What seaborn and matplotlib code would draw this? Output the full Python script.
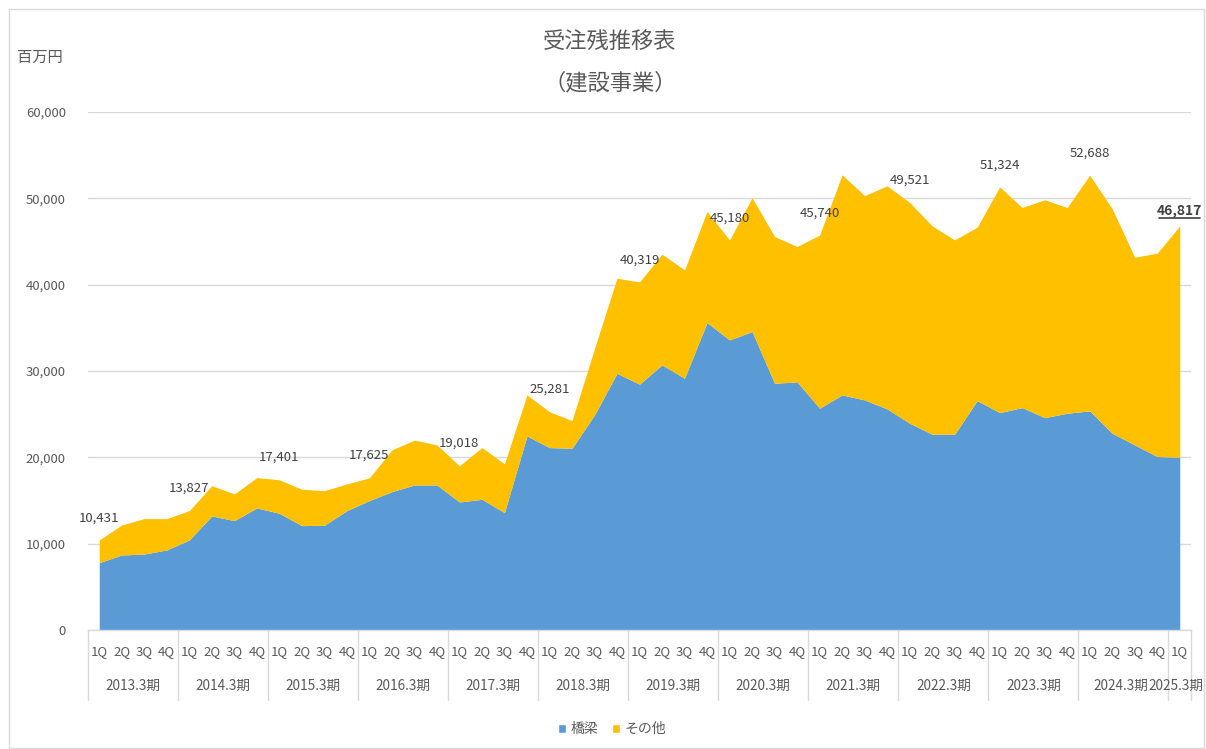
import matplotlib
matplotlib.use("Agg")
import matplotlib.pyplot as plt
from matplotlib.patches import Patch, Rectangle
from matplotlib.ticker import FuncFormatter
import numpy as np
import pandas as pd
import seaborn as sns

# values in 百万円, one per quarter from 2013.3期 1Q to 2025.3期 1Q
years = ['2013.3期', '2014.3期', '2015.3期', '2016.3期', '2017.3期', '2018.3期',
         '2019.3期', '2020.3期', '2021.3期', '2022.3期', '2023.3期', '2024.3期',
         '2025.3期']
quarters = ['1Q', '2Q', '3Q', '4Q'] * 12 + ['1Q']

bridge = [7800, 8690, 8800, 9270, 10430, 13210, 12670, 14140, 13520, 12090,
          12130, 13830, 14990, 16030, 16800, 16800, 14830, 15140, 13600, 22480,
          21130, 21050, 24910, 29740, 28470, 30710, 29160, 35610, 33600, 34570,
          28580, 28740, 25690, 27230, 26650, 25610, 23950, 22680, 22680, 26570,
          25180, 25760, 24600, 25110, 25380, 22790, 21440, 20090, 20010]
total = [10431, 12170, 12900, 12900, 13827, 16720, 15760, 17650, 17401, 16300,
         16140, 16920, 17625, 20860, 22000, 21440, 19018, 21130, 19240, 27230,
         25281, 24260, 32600, 40750, 40319, 43530, 41710, 48470, 45180, 50070,
         45580, 44420, 45740, 52720, 50320, 51450, 49521, 46810, 45190, 46660,
         51324, 48940, 49830, 48940, 52688, 48780, 43180, 43650, 46817]
other = [t - b for t, b in zip(total, bridge)]

df = pd.DataFrame({'quarter': quarters, '橋梁': bridge, 'その他': other})
df['合計'] = df['橋梁'] + df['その他']

BLUE = '#5B9BD5'
YELLOW = '#FFC000'
TEXT = '#595959'
GRID = '#D9D9D9'

sns.set_theme(style="white")
plt.rcParams['font.family'] = ['Noto Sans CJK JP', 'DejaVu Sans']

W, H = 1206, 749
fig = plt.figure(figsize=(W / 100, H / 100), dpi=100)
ax = fig.add_axes([88 / W, 1 - 630 / H, (1191 - 88) / W, (630 - 112) / H])

x = np.arange(len(df))
ax.stackplot(x, df['橋梁'], df['その他'], colors=[BLUE, YELLOW], linewidth=0)

ax.set_xlim(-0.5, len(df) - 0.5)
ax.set_ylim(0, 60000)
ax.set_yticks(range(0, 60001, 10000))
ax.yaxis.set_major_formatter(FuncFormatter(lambda v, p: f'{int(v):,}'))
ax.yaxis.grid(True, color=GRID, linewidth=1)
ax.set_axisbelow(True)
ax.tick_params(axis='y', length=0, pad=16, labelsize=9.5, labelcolor=TEXT)

ax.set_xticks(x)
ax.set_xticklabels(df['quarter'])
ax.tick_params(axis='x', length=0, pad=11, labelsize=9.5, labelcolor=TEXT)

for s in ['top', 'right', 'left']:
    ax.spines[s].set_visible(False)
ax.spines['bottom'].set_color(GRID)
ax.spines['bottom'].set_linewidth(1)

# year group labels and separators
trans = ax.get_xaxis_transform()
bounds = [-0.5 + 4 * k for k in range(13)] + [len(df) - 0.5]
for b in bounds:
    ax.plot([b, b], [0, -0.135], transform=trans, color=GRID, lw=1, clip_on=False)
for k, yl in enumerate(years):
    cx = 1.5 + 4 * k
    if k == 11:
        cx = 45.4
    if k == 12:
        cx = 47.85
    ax.text(cx, -0.108, yl, transform=trans, ha='center', va='center',
            fontsize=9.8, color=TEXT)

# data labels at each 1Q
for i in range(0, len(df), 4):
    v = df['合計'][i]
    last = i == len(df) - 1
    ax.annotate(f'{v:,}', (i, v), xytext=(0, 11 if last else 16),
                textcoords='offset points', ha='center', va='center',
                fontsize=10 if last else 9.5,
                fontweight='bold' if last else 'normal',
                color='#404040', annotation_clip=False)

# underline for the latest value
lv = df['合計'].iloc[-1] + 850
ax.plot([47.1, 48.9], [lv, lv], color='#404040', lw=1.2, clip_on=False)

# titles
fig.text(610 / W, 1 - 42 / H, '受注残推移表', ha='center', va='center',
         fontsize=16, color=TEXT)
fig.text(610 / W, 1 - 83 / H, '（建設事業）', ha='center', va='center',
         fontsize=16, color=TEXT)
fig.text(40 / W, 1 - 57 / H, '百万円', ha='center', va='center',
         fontsize=11, color=TEXT)

handles = [Patch(facecolor=BLUE, label='橋梁'), Patch(facecolor=YELLOW, label='その他')]
fig.legend(handles=handles, loc='center', bbox_to_anchor=(612 / W, 1 - 729 / H),
           ncol=2, frameon=False, fontsize=10, labelcolor=TEXT,
           handlelength=0.6, handleheight=0.6, handletextpad=0.3, columnspacing=1.0)

fig.patches.append(Rectangle((9 / W, 1 / H), (W - 11) / W, (H - 10) / H,
                             transform=fig.transFigure, fill=False,
                             edgecolor=GRID, lw=1))

fig.savefig('out.png', dpi=100)
